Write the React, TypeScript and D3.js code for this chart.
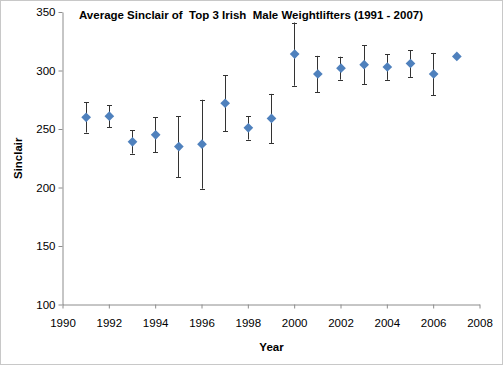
import * as d3 from "d3";
import { useEffect, useRef } from "react";

// values
const years = [1991, 1992, 1993, 1994, 1995, 1996, 1997, 1998, 1999, 2000, 2001, 2002, 2003, 2004, 2005, 2006, 2007];
const sinclair = [260, 261, 239, 245, 235, 237, 272, 251, 259, 314, 297, 302, 305, 303, 306, 297, 312];
const errors = [13, 9.5, 10, 15, 26, 38, 24, 10, 21, 27, 15.5, 9.8, 16.5, 11, 11.5, 18, 0];
const xTicks = [1990, 1992, 1994, 1996, 1998, 2000, 2002, 2004, 2006, 2008];
const yTicks = [100, 150, 200, 250, 300, 350];

const App = () => {
  const svgRef = useRef<SVGSVGElement>(null);

  useEffect(() => {
    const svg = d3.select(svgRef.current);
    svg.selectAll("*").remove();

    const width = 503;
    const height = 365;
    const font = "'Liberation Sans', Arial, sans-serif";

    svg.attr("width", width).attr("height", height);

    svg
      .append("rect")
      .attr("x", 0.5)
      .attr("y", 0.5)
      .attr("width", width - 1)
      .attr("height", height - 1)
      .attr("fill", "#fff")
      .attr("stroke", "#c8c8c8");

    const x = d3.scaleLinear().domain([1990, 2008]).range([62.5, 479.5]);
    const y = d3.scaleLinear().domain([100, 350]).range([304.5, 12]);

    // axes
    const xAxis = svg
      .append("g")
      .attr("transform", `translate(0,${y(100)})`)
      .call(d3.axisBottom(x).tickValues(xTicks).tickFormat(d3.format("d")).tickSize(4).tickSizeOuter(0));
    const yAxis = svg
      .append("g")
      .attr("transform", `translate(${x(1990)},0)`)
      .call(d3.axisLeft(y).tickValues(yTicks).tickSize(4).tickSizeOuter(0));

    [xAxis, yAxis].forEach((a) => {
      a.select(".domain").attr("stroke", "#8c8c8c");
      a.selectAll(".tick line").attr("stroke", "#8c8c8c");
      a.selectAll(".tick text")
        .attr("fill", "#000")
        .style("font-family", font)
        .style("font-size", "11.5px");
    });
    xAxis.selectAll(".tick text").attr("dy", "1.1em").attr("y", 10);
    yAxis.selectAll(".tick text").attr("x", -7);

    // error bars
    const bars = svg
      .append("g")
      .selectAll("g")
      .data(years.map((yr, i) => ({ yr, v: sinclair[i], e: errors[i] })).filter((d) => d.e > 0))
      .enter()
      .append("g")
      .attr("stroke", "#333")
      .attr("stroke-width", 1);

    bars
      .append("line")
      .attr("x1", (d) => Math.round(x(d.yr)) + 0.5)
      .attr("x2", (d) => Math.round(x(d.yr)) + 0.5)
      .attr("y1", (d) => y(d.v - d.e))
      .attr("y2", (d) => y(d.v + d.e));
    [-1, 1].forEach((s) => {
      bars
        .append("line")
        .attr("x1", (d) => Math.round(x(d.yr)) - 2)
        .attr("x2", (d) => Math.round(x(d.yr)) + 3)
        .attr("y1", (d) => Math.round(y(d.v + s * d.e)) + 0.5)
        .attr("y2", (d) => Math.round(y(d.v + s * d.e)) + 0.5);
    });

    // diamond markers
    const diamond = d3.symbol().type(d3.symbolDiamond2).size(60);
    svg
      .append("g")
      .selectAll("path")
      .data(years)
      .enter()
      .append("path")
      .attr("d", diamond)
      .attr("transform", (d, i) => `translate(${x(d) + 0.5},${y(sinclair[i])})`)
      .attr("fill", "#4f81bd");

    // title and axis titles
    svg
      .append("text")
      .attr("x", 79)
      .attr("y", 19)
      .attr("textLength", 344)
      .attr("lengthAdjust", "spacingAndGlyphs")
      .style("font-family", font)
      .style("font-size", "11px")
      .style("font-weight", "bold")
      .style("white-space", "pre")
      .text("Average Sinclair of  Top 3 Irish  Male Weightlifters (1991 - 2007)");

    svg
      .append("text")
      .attr("transform", `translate(22,${(y(100) + y(350)) / 2}) rotate(-90)`)
      .attr("text-anchor", "middle")
      .style("font-family", font)
      .style("font-size", "11.5px")
      .style("font-weight", "bold")
      .text("Sinclair");

    svg
      .append("text")
      .attr("x", 271.5)
      .attr("y", 351)
      .attr("text-anchor", "middle")
      .style("font-family", font)
      .style("font-size", "11.5px")
      .style("font-weight", "bold")
      .text("Year");
  }, []);

  return <svg ref={svgRef} style={{ position: "absolute", left: 0, top: 0 }}></svg>;
};

export default App;
